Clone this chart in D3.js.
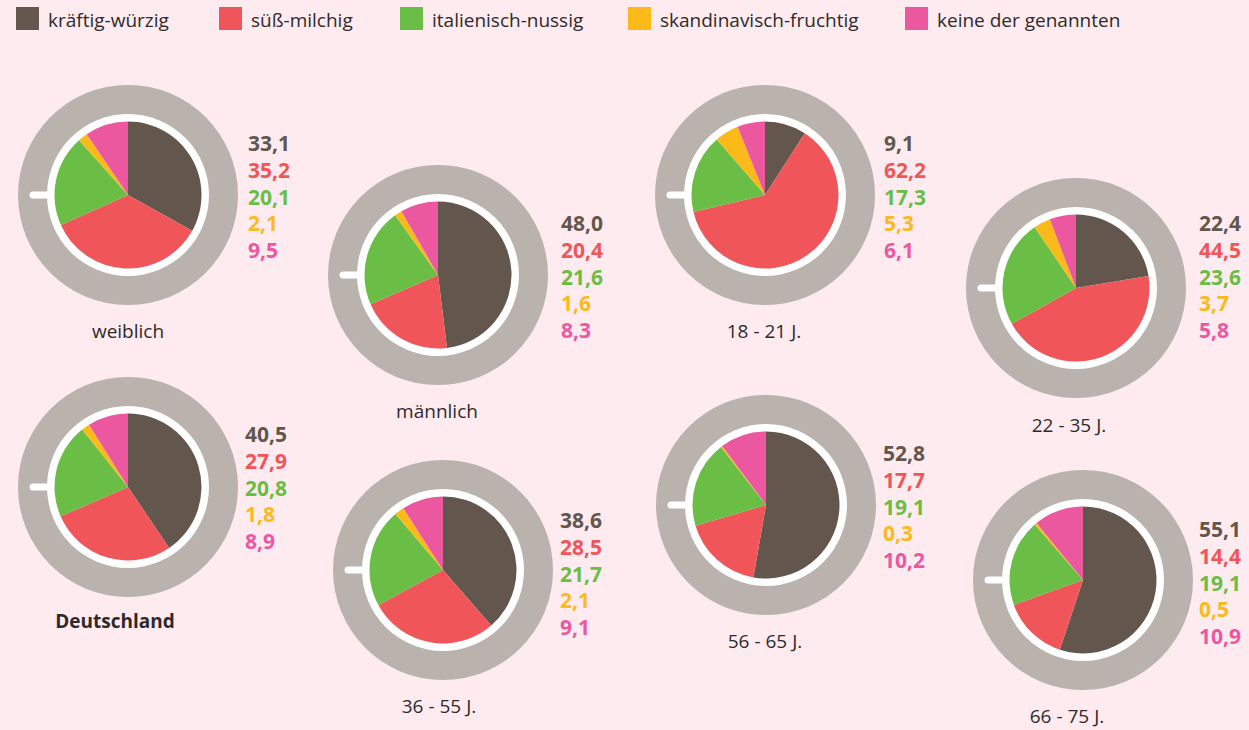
<!DOCTYPE html>
<html>
<head>
<meta charset="utf-8">
<script src="https://cdn.jsdelivr.net/npm/d3@7"></script>
<style>
  html, body { margin: 0; padding: 0; background: #fdebf0; }
  svg { display: block; }
  text { font-family: "Open Sans", sans-serif; }
</style>
</head>
<body>
<div id="chart"></div>
<script>
const W = 1249, H = 730

// categories (legend)
const categories = ["kräftig-würzig", "süß-milchig", "italienisch-nussig", "skandinavisch-fruchtig", "keine der genannten"]
const colors = ["#62564d", "#f0555a", "#6abd45", "#fbb91a", "#ec58a0"]

// groups and their values (in order of categories)
const groups = ["weiblich", "männlich", "18 - 21 J.", "22 - 35 J.", "Deutschland", "36 - 55 J.", "56 - 65 J.", "66 - 75 J."]
const weiblich    = [33.1, 35.2, 20.1, 2.1, 9.5]
const maennlich   = [48.0, 20.4, 21.6, 1.6, 8.3]
const age18_21    = [9.1, 62.2, 17.3, 5.3, 6.1]
const age22_35    = [22.4, 44.5, 23.6, 3.7, 5.8]
const deutschland = [40.5, 27.9, 20.8, 1.8, 8.9]
const age36_55    = [38.6, 28.5, 21.7, 2.1, 9.1]
const age56_65    = [52.8, 17.7, 19.1, 0.3, 10.2]
const age66_75    = [55.1, 14.4, 19.1, 0.5, 10.9]
const values = [weiblich, maennlich, age18_21, age22_35, deutschland, age36_55, age56_65, age66_75]

// layout of each cup: pie center, first number baseline, caption
const layout = [
  {cx: 128,  cy: 195, ny: 151, lx: 248,  tx: 128,  ty: 338},
  {cx: 438,  cy: 275, ny: 231, lx: 561,  tx: 437,  ty: 418},
  {cx: 765,  cy: 195, ny: 151, lx: 884,  tx: 764,  ty: 338},
  {cx: 1076, cy: 288, ny: 231, lx: 1199, tx: 1069, ty: 432},
  {cx: 128,  cy: 487, ny: 442, lx: 245,  tx: 115,  ty: 628, bold: true},
  {cx: 443,  cy: 570, ny: 528, lx: 560,  tx: 439,  ty: 713},
  {cx: 766,  cy: 505, ny: 461, lx: 883,  tx: 765,  ty: 648},
  {cx: 1083, cy: 580, ny: 537, lx: 1199, tx: 1067, ty: 723}
]

const R_OUTER = 110, R_WHITE = 81, R_PIE = 73.5

const svg = d3.select("#chart").append("svg")
  .attr("width", W)
  .attr("height", H)

svg.append("rect").attr("width", W).attr("height", H).attr("fill", "#fdebf0")

// legend
const legendX = [16, 219, 400, 628, 905]
const legend = svg.append("g")
legend.selectAll("rect")
  .data(categories)
  .join("rect")
  .attr("x", (d, i) => legendX[i])
  .attr("y", 7)
  .attr("width", 23)
  .attr("height", 23)
  .attr("fill", (d, i) => colors[i])
legend.selectAll("text")
  .data(categories)
  .join("text")
  .attr("x", (d, i) => legendX[i] + 32)
  .attr("y", 27)
  .attr("font-size", 19)
  .attr("fill", "#2e2a2b")
  .text(d => d)

const pie = d3.pie().sort(null).value(d => d)
const arc = d3.arc().innerRadius(0).outerRadius(R_PIE)
const fmt = v => d3.format(".1f")(v).replace(".", ",")

groups.forEach((name, gi) => {
  const L = layout[gi]
  const g = svg.append("g").attr("transform", `translate(${L.cx}, ${L.cy})`)

  // cup
  g.append("circle").attr("r", R_OUTER).attr("fill", "#b9b2ad")
  g.append("circle").attr("r", R_WHITE).attr("fill", "#ffffff")
  // handle
  g.append("line")
    .attr("x1", -95).attr("x2", -R_WHITE + 2)
    .attr("y1", 0).attr("y2", 0)
    .attr("stroke", "#ffffff")
    .attr("stroke-width", 7)
    .attr("stroke-linecap", "round")

  // pie slices
  g.selectAll("path")
    .data(pie(values[gi]))
    .join("path")
    .attr("d", arc)
    .attr("fill", (d, i) => colors[i])

  // numbers
  svg.append("g").selectAll("text")
    .data(values[gi])
    .join("text")
    .attr("x", L.lx)
    .attr("y", (d, i) => L.ny + i * 26.8)
    .attr("font-size", 21)
    .attr("font-weight", 700)
    .attr("fill", (d, i) => colors[i])
    .text(d => fmt(d))

  // caption
  svg.append("text")
    .attr("x", L.tx)
    .attr("y", L.ty)
    .attr("text-anchor", "middle")
    .attr("font-size", 19)
    .attr("font-weight", L.bold ? 700 : 400)
    .attr("fill", "#2e2a2b")
    .text(name)
})
</script>
</body>
</html>
